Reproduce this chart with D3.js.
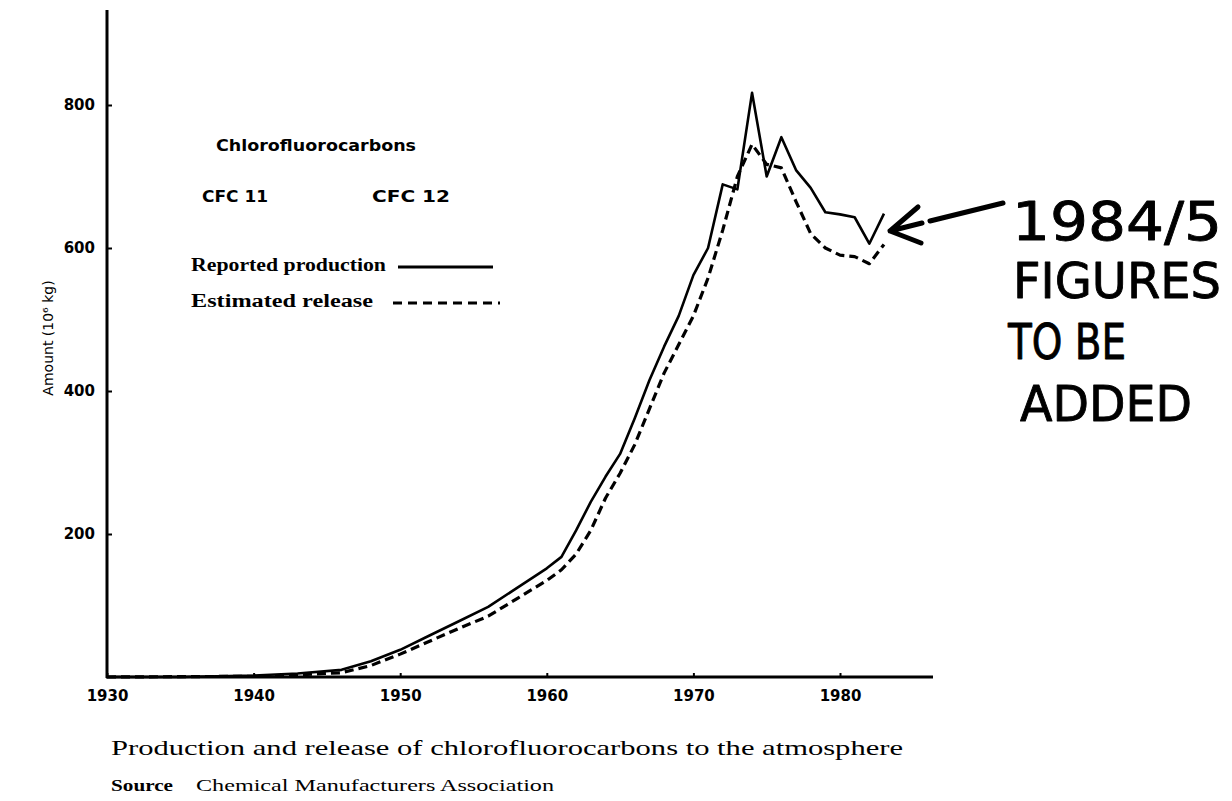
<!DOCTYPE html>
<html>
<head>
<meta charset="utf-8">
<script src="https://cdnjs.cloudflare.com/ajax/libs/d3/7.8.5/d3.min.js"></script>
<style>
  body { margin: 0; background: #fff; }
  svg { display: block; }
</style>
</head>
<body>
<svg id="chart" width="1232" height="801"></svg>
<script>
// data (10^6 kg)
var prodYears = [1930, 1935, 1940, 1943, 1946, 1948, 1950, 1952, 1954, 1956, 1958, 1960, 1961, 1962, 1963, 1964, 1965, 1966, 1967, 1968, 1969, 1970, 1971, 1972, 1973, 1974, 1975, 1976, 1977, 1978, 1979, 1980, 1981, 1982, 1983];
var prodValues = [0, 0, 2, 5, 10, 22, 38, 58, 78, 98, 125, 152, 168, 205, 245, 280, 312, 362, 415, 462, 505, 562, 600, 689, 682, 817, 700, 755, 709, 684, 650, 647, 643, 606, 648];

var relYears = [1930, 1940, 1943, 1946, 1948, 1950, 1952, 1954, 1956, 1958, 1960, 1961, 1962, 1963, 1964, 1965, 1966, 1967, 1968, 1969, 1970, 1971, 1972, 1973, 1974, 1975, 1976, 1977, 1978, 1979, 1980, 1981, 1982, 1983];
var relValues = [0, 1, 3, 6, 16, 32, 50, 68, 85, 110, 135, 150, 172, 205, 250, 285, 325, 375, 425, 465, 505, 558, 625, 700, 745, 717, 712, 665, 620, 600, 590, 588, 578, 605];

var xTicks = [1930, 1940, 1950, 1960, 1970, 1980];
var yTicks = [200, 400, 600, 800];

var legendItems = ["Reported production", "Estimated release"];
var noteLines = ["1984/5", "FIGURES", "TO BE", "ADDED"];

var svg = d3.select("#chart");

var x = d3.scaleLinear().domain([1930, 1980]).range([107, 840]);
var y = d3.scaleLinear().domain([0, 800]).range([677, 105]);

var serif = "'Liberation Serif', 'DejaVu Serif', serif";
var sans = "'DejaVu Sans', 'Noto Sans', sans-serif";

// axes
var xAxis = d3.axisBottom(x).tickValues(xTicks).tickFormat(d3.format("d")).tickSize(-4).tickPadding(13);
var yAxis = d3.axisLeft(y).tickValues(yTicks).tickSize(-5).tickPadding(12);

var gx = svg.append("g").attr("transform", "translate(0,677)").call(xAxis);
var gy = svg.append("g").attr("transform", "translate(107,0)").call(yAxis);

gx.select(".domain").remove();
gy.select(".domain").remove();
svg.append("line").attr("x1", 106).attr("x2", 933).attr("y1", 677).attr("y2", 677)
  .attr("stroke", "#000").attr("stroke-width", 3);
svg.append("line").attr("x1", 107).attr("x2", 107).attr("y1", 10).attr("y2", 678)
  .attr("stroke", "#000").attr("stroke-width", 3);

[gx, gy].forEach(function(g){
  g.selectAll(".tick line").attr("stroke", "#000").attr("stroke-width", 2);
  g.selectAll(".tick text").attr("fill", "#000")
    .style("font-family", sans).style("font-size", "15px").style("font-weight", "bold");
});

// y label
svg.append("text")
  .attr("transform", "translate(53,338) rotate(-90)")
  .attr("text-anchor", "middle")
  .style("font-family", sans).style("font-size", "14px")
  .text("Amount (10\u2076 kg)");

// lines
var line = d3.line()
  .x(function(d){ return x(d[0]); })
  .y(function(d){ return y(d[1]); });

var prod = prodYears.map(function(yr, i){ return [yr, prodValues[i]]; });
var rel = relYears.map(function(yr, i){ return [yr, relValues[i]]; });

svg.append("path").datum(rel).attr("d", line)
  .attr("fill", "none").attr("stroke", "#000").attr("stroke-width", 3.2)
  .attr("stroke-dasharray", "9,5").attr("stroke-linejoin", "round");

svg.append("path").datum(prod).attr("d", line)
  .attr("fill", "none").attr("stroke", "#000").attr("stroke-width", 2.6)
  .attr("stroke-linejoin", "round");

// legend block
svg.append("text").attr("x", 216).attr("y", 151)
  .attr("textLength", 200).attr("lengthAdjust", "spacingAndGlyphs")
  .style("font-family", sans).style("font-size", "16px").style("font-weight", "bold")
  .text("Chlorofluorocarbons");
svg.append("text").attr("x", 202).attr("y", 202)
  .attr("textLength", 66).attr("lengthAdjust", "spacingAndGlyphs")
  .style("font-family", sans).style("font-size", "16px").style("font-weight", "bold")
  .text("CFC 11");
svg.append("text").attr("x", 372).attr("y", 202)
  .attr("textLength", 78).attr("lengthAdjust", "spacingAndGlyphs")
  .style("font-family", sans).style("font-size", "16px").style("font-weight", "bold")
  .text("CFC 12");

legendItems.forEach(function(label, i){
  var ly = 271 + i * 36;
  svg.append("text").attr("x", 191).attr("y", ly)
    .attr("textLength", i ? 182 : 195).attr("lengthAdjust", "spacingAndGlyphs")
    .style("font-family", serif).style("font-size", "18px").style("font-weight", "bold")
    .text(label);
  svg.append("line")
    .attr("x1", i ? 393 : 398).attr("x2", i ? 500 : 493)
    .attr("y1", ly - 4).attr("y2", ly - 4)
    .attr("stroke", "#000").attr("stroke-width", 3)
    .attr("stroke-dasharray", i ? "9,6" : null);
});

// caption
svg.append("text").attr("x", 111).attr("y", 755)
  .attr("textLength", 792).attr("lengthAdjust", "spacingAndGlyphs")
  .style("font-family", serif).style("font-size", "22px")
  .text("Production and release of chlorofluorocarbons to the atmosphere");
svg.append("text").attr("x", 111).attr("y", 791)
  .attr("textLength", 62).attr("lengthAdjust", "spacingAndGlyphs")
  .style("font-family", serif).style("font-size", "16px").style("font-weight", "bold")
  .text("Source");
svg.append("text").attr("x", 196).attr("y", 791)
  .attr("textLength", 358).attr("lengthAdjust", "spacingAndGlyphs")
  .style("font-family", serif).style("font-size", "16px")
  .text("Chemical Manufacturers Association");

// handwritten note
var hand = "'DejaVu Sans Condensed', 'DejaVu Sans', sans-serif";
var noteX = [1012, 1013, 1008, 1020];
var noteY = [240, 298, 359, 421];
var noteW = [210, 208, 118, 172];
var noteS = [54, 50, 50, 50];
noteLines.forEach(function(t, i){
  svg.append("text").attr("x", noteX[i]).attr("y", noteY[i])
    .attr("textLength", noteW[i]).attr("lengthAdjust", "spacingAndGlyphs")
    .style("font-family", hand).style("font-size", noteS[i] + "px")
    .attr("stroke", "#000").attr("stroke-width", 0.8).attr("stroke-linejoin", "round")
    .text(t);
});

// arrow
svg.append("path")
  .attr("d", "M890,231 L922,223 M930,221 L1003,203 M918,207 L890,231 L921,243")
  .attr("fill", "none").attr("stroke", "#000").attr("stroke-width", 5)
  .attr("stroke-linecap", "round").attr("stroke-linejoin", "round");
</script>
</body>
</html>
